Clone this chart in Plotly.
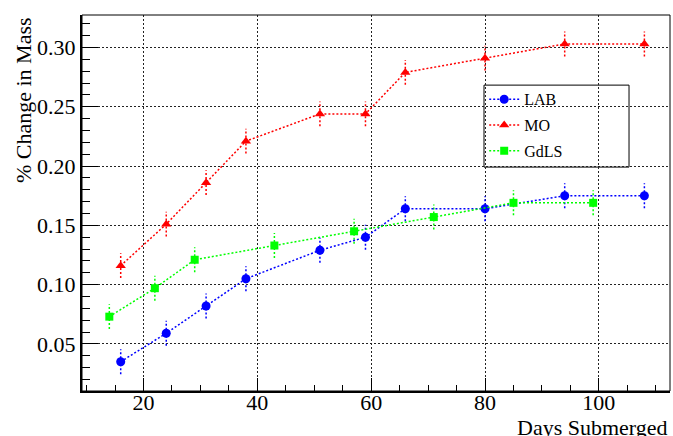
import plotly.graph_objects as go

# ---- data ----
lab_days = [16, 24, 31, 38, 51, 59, 66, 80, 94, 108]
lab_mass = [0.035, 0.059, 0.082, 0.105, 0.129, 0.140, 0.164, 0.164, 0.175, 0.175]
mo_days = [16, 24, 31, 38, 51, 59, 66, 80, 94, 108]
mo_mass = [0.116, 0.151, 0.186, 0.221, 0.244, 0.244, 0.279, 0.291, 0.303, 0.303]
gdls_days = [14, 22, 29, 43, 57, 71, 85, 99]
gdls_mass = [0.073, 0.097, 0.121, 0.133, 0.145, 0.157, 0.169, 0.169]
err = 0.0105

series = [
    ("LAB", lab_days, lab_mass, "#0000ff", "circle", 9),
    ("MO", mo_days, mo_mass, "#ff0000", "triangle-up", 9),
    ("GdLS", gdls_days, gdls_mass, "#00ff00", "square", 8),
]

FONT = "Liberation Serif"
fig = go.Figure()

for i, (name, xs, ys, col, sym, sz) in enumerate(series):
    ex, ey = [], []
    for x, y in zip(xs, ys):
        ex += [x, x, None]
        ey += [y - err, y + err, None]
    fig.add_trace(go.Scatter(x=ex, y=ey, mode="lines", showlegend=False,
                             hoverinfo="skip",
                             line=dict(color=col, width=1.5, dash="2px,2px")))

for i, (name, xs, ys, col, sym, sz) in enumerate(series):
    fig.add_trace(go.Scatter(x=xs, y=ys, mode="lines+markers", name=name,
                             legendgroup=name,
                             line=dict(color=col, width=1.5, dash="2px,2px"),
                             marker=dict(color=col, symbol=sym, size=sz)))

fig.update_layout(
    width=673, height=436,
    margin=dict(l=82, r=3, t=15, b=45, autoexpand=False),
    paper_bgcolor="white", plot_bgcolor="white",
    font=dict(family=FONT, size=22, color="black"),
    showlegend=True,
    legend=dict(x=0.684, y=0.821, xanchor="left", yanchor="top",
                bgcolor="rgba(0,0,0,0)", borderwidth=0,
                font=dict(family=FONT, size=16), tracegroupgap=2),
    xaxis=dict(range=[9.2, 112.5], dtick=20, tick0=0, automargin=False,
               tickfont=dict(family=FONT, size=22), ticklabelstandoff=-9,
               ticks="inside", ticklen=13, tickwidth=1, tickcolor="black",
               showline=True, linewidth=2, linecolor="black",
               showgrid=True, gridcolor="#222", gridwidth=1, griddash="2px,2px",
               zeroline=False,
               minor=dict(ticks="inside", dtick=5, ticklen=6, tickcolor="black", showgrid=False)),
    yaxis=dict(range=[0.0103, 0.3274], dtick=0.05, tick0=0, tickformat=".2f",
               automargin=False, tickfont=dict(family=FONT, size=22),
               ticks="inside", ticklen=16, tickwidth=1, tickcolor="black",
               showline=True, linewidth=2, linecolor="black",
               showgrid=True, gridcolor="#222", gridwidth=1, griddash="2px,2px",
               zeroline=False,
               minor=dict(ticks="inside", dtick=0.01, ticklen=8, tickcolor="black", showgrid=False)),
    shapes=[
        dict(type="rect", xref="paper", yref="paper", x0=0, x1=1, y0=0, y1=1,
             line=dict(color="black", width=1)),
        dict(type="rect", xref="paper", yref="paper", x0=0.6837, x1=0.9303,
             y0=0.5955, y1=0.8135, fillcolor="white", layer="below",
             line=dict(color="black", width=1)),
    ],
    annotations=[
        dict(text="% Change in Mass", textangle=-90, xref="paper", yref="paper",
             x=-0.1003, y=1.0, xanchor="center", yanchor="top", showarrow=False,
             font=dict(family=FONT, size=22)),
        dict(text="Days Submerged", xref="paper", yref="paper",
             x=1.0, y=-0.097, xanchor="right", yanchor="middle", showarrow=False,
             font=dict(family=FONT, size=22)),
    ],
)

fig.write_html("out.html", config={"displayModeBar": False},
               post_script="document.body.style.margin='0';document.body.style.overflow='hidden';")
